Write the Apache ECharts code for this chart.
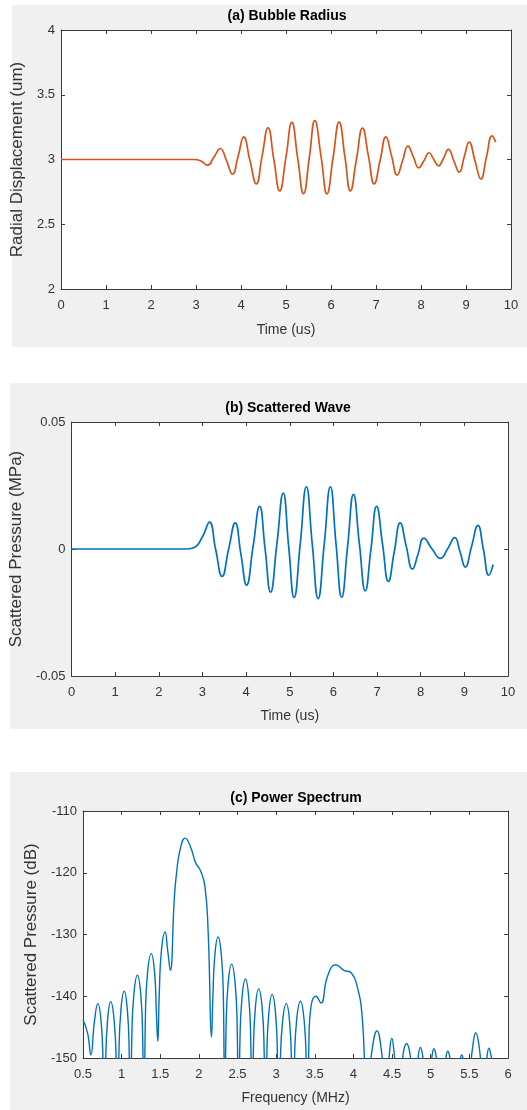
<!DOCTYPE html>
<html><head><meta charset="utf-8">
<script src="https://cdn.jsdelivr.net/npm/echarts@6/dist/echarts.min.js"></script>
<style>
html,body{margin:0;padding:0;background:#fff;}
#wrap{position:relative;width:527px;height:1110px;overflow:hidden;}
.panel{position:absolute;background:#f0f0f0;}
#chart{position:absolute;left:0;top:0;width:527px;height:1110px;}
</style></head><body>
<div id="wrap">
<div class="panel" style="left:12px;top:5px;width:515px;height:342px"></div>
<div class="panel" style="left:10px;top:383px;width:517px;height:346px"></div>
<div class="panel" style="left:10px;top:772px;width:517px;height:338px"></div>
<div id="chart"></div>
</div>
<script>
// ---- Panel (a) Bubble Radius ----
var timeA = [0, 2.8, 2.95, 3.1, 3.26, 3.40, 3.54, 3.68, 3.81, 3.94, 4.06, 4.20, 4.34, 4.47, 4.60, 4.73, 4.86, 5.0, 5.13, 5.26, 5.39, 5.52, 5.64, 5.78, 5.91, 6.045, 6.18, 6.31, 6.43, 6.565, 6.70, 6.83, 6.96, 7.09, 7.22, 7.345, 7.47, 7.59, 7.71, 7.83, 7.95, 8.065, 8.18, 8.285, 8.39, 8.50, 8.61, 8.73, 8.85, 8.96, 9.07, 9.20, 9.33, 9.455, 9.58, 9.66];
var radiusA = [3.0, 3.0, 3.0, 2.99, 2.956, 3.02, 3.085, 2.99, 2.887, 3.03, 3.175, 2.99, 2.812, 3.03, 3.245, 3.0, 2.758, 3.02, 3.286, 3.01, 2.737, 3.02, 3.30, 3.02, 2.735, 3.01, 3.289, 3.02, 2.758, 3.0, 3.242, 3.03, 2.812, 2.99, 3.175, 3.03, 2.879, 2.99, 3.103, 3.02, 2.936, 2.99, 3.052, 3.0, 2.951, 3.01, 3.078, 2.99, 2.902, 3.02, 3.134, 2.99, 2.85, 3.02, 3.183, 3.134];
var ticksA_x = [0, 10, 1];
var ticksA_y = [2, 4, 0.5];

// ---- Panel (b) Scattered Wave ----
var timeB = [0, 2.6, 2.8, 3.0, 3.16, 3.30, 3.45, 3.60, 3.75, 3.88, 4.01, 4.16, 4.31, 4.435, 4.56, 4.705, 4.85, 4.975, 5.10, 5.24, 5.38, 5.515, 5.65, 5.79, 5.93, 6.06, 6.19, 6.325, 6.46, 6.595, 6.73, 6.86, 6.99, 7.125, 7.26, 7.395, 7.53, 7.67, 7.81, 7.94, 8.07, 8.26, 8.45, 8.615, 8.78, 8.90, 9.02, 9.165, 9.31, 9.435, 9.56, 9.66];
var pressureB = [0, 0, 0.0005, 0.0048, 0.0106, 0.0, -0.0108, 0.0, 0.0103, -0.002, -0.0142, 0.001, 0.0168, 0.0, -0.0170, 0.002, 0.0220, 0.001, -0.0191, 0.002, 0.0245, 0.002, -0.0195, 0.002, 0.0245, 0.002, -0.019, 0.001, 0.0215, 0.002, -0.0165, 0.0, 0.0168, 0.002, -0.0128, -0.001, 0.0103, 0.001, -0.0079, -0.002, 0.0043, 0.0, -0.0037, 0.0, 0.0045, -0.001, -0.0071, 0.001, 0.0093, 0.0, -0.0103, -0.0061];
var ticksB_x = [0, 10, 1];
var ticksB_y = [-0.05, 0.05, 0.05];

// ---- Panel (c) Power Spectrum ----
var freqC = [0.5, 0.56, 0.602, 0.647, 0.692, 0.735, 0.760, 0.777, 0.793, 0.818, 0.858, 0.903, 0.930, 0.948, 0.965, 0.991, 1.033, 1.074, 1.098, 1.114, 1.132, 1.159, 1.204, 1.247, 1.272, 1.289, 1.308, 1.336, 1.383, 1.426, 1.451, 1.468, 1.487, 1.515, 1.562, 1.596, 1.630, 1.681, 1.711, 1.758, 1.822, 1.894, 1.958, 2.022, 2.078, 2.12, 2.163, 2.180, 2.206, 2.248, 2.291, 2.317, 2.334, 2.352, 2.379, 2.423, 2.468, 2.495, 2.513, 2.531, 2.558, 2.602, 2.645, 2.671, 2.688, 2.705, 2.731, 2.773, 2.818, 2.844, 2.862, 2.879, 2.905, 2.948, 2.991, 3.016, 3.033, 3.053, 3.082, 3.131, 3.174, 3.199, 3.216, 3.236, 3.265, 3.314, 3.361, 3.389, 3.408, 3.425, 3.451, 3.515, 3.579, 3.664, 3.771, 3.877, 3.971, 4.048, 4.112, 4.175, 4.242, 4.304, 4.36, 4.42, 4.462, 4.496, 4.532, 4.59, 4.645, 4.688, 4.73, 4.79, 4.84, 4.867, 4.895, 4.96, 5.018, 5.042, 5.068, 5.14, 5.198, 5.221, 5.246, 5.32, 5.385, 5.4, 5.42, 5.47, 5.54, 5.583, 5.63, 5.69, 5.73, 5.754, 5.78, 5.796];
var powerC = [-143.8, -146, -149.5, -144.2, -141.2, -144.2, -151.2, -165, -150.9, -143.9, -140.9, -143.9, -150.9, -165, -149.2, -142.2, -139.2, -142.2, -149.2, -165, -146.6, -139.6, -136.6, -139.6, -146.6, -165, -143.1, -136.1, -133.1, -136.1, -143.1, -147.3, -139.6, -132.6, -129.6, -132.6, -135.8, -124.3, -120.0, -116.2, -114.4, -115.9, -118.4, -119.7, -122.2, -129.7, -146.6, -140.4, -133.4, -130.4, -133.4, -140.4, -165, -144.8, -137.8, -134.8, -137.8, -144.8, -165, -147.2, -140.2, -137.2, -140.2, -147.2, -165, -148.8, -141.8, -138.8, -141.8, -148.8, -165, -149.7, -142.7, -139.7, -142.7, -149.7, -165, -151.2, -144.2, -141.2, -144.2, -151.2, -165, -150.8, -143.8, -140.8, -143.8, -150.8, -165, -146.5, -141.6, -140.0, -141.1, -136.8, -134.9, -135.8, -136.2, -138.4, -143.2, -156, -148.6, -145.6, -148.6, -156, -149.8, -146.8, -149.8, -156, -149.2, -147.7, -149.2, -156, -149.6, -148.3, -149.6, -156, -149.6, -148.5, -149.6, -156, -149.8, -148.9, -149.8, -156, -150.2, -149.5, -150.2, -156, -148.5, -145.9, -148.5, -156, -149.6, -148.4, -149.6, -150.5];
var ticksC_x = [0.5, 6, 0.5];
var ticksC_y = [-150, -110, 10];

function zip(a, b) { var o = []; for (var i = 0; i < a.length; i++) o.push([a[i], b[i]]); return o; }

var FONT = 'Liberation Sans, Arial, Helvetica, sans-serif';
var AX = '#3a3a3a';
var TXT = '#333333';

function makeAxes(gi, xt, yt, xname, yname, ynameGap, xnameGap) {
  var base = { gridIndex: gi, type: 'value', splitLine: { show: false },
    axisLine: { show: true, onZero: false, lineStyle: { color: AX, width: 1 } },
    axisTick: { show: true, inside: true, length: 4, lineStyle: { color: AX } } };
  var xs = [
    Object.assign({}, base, { position: 'bottom', min: xt[0], max: xt[1], interval: xt[2],
      name: xname, nameLocation: 'middle', nameGap: xnameGap,
      nameTextStyle: { fontFamily: FONT, fontSize: 14, color: TXT },
      axisLabel: { fontFamily: FONT, fontSize: 13, color: TXT, margin: 10 } }),
    Object.assign({}, base, { position: 'top', min: xt[0], max: xt[1], interval: xt[2],
      axisLabel: { show: false } })
  ];
  var ys = [
    Object.assign({}, base, { position: 'left', min: yt[0], max: yt[1], interval: yt[2],
      name: yname, nameLocation: 'middle', nameGap: ynameGap,
      nameTextStyle: { fontFamily: FONT, fontSize: 17, color: TXT },
      axisLabel: { fontFamily: FONT, fontSize: 13, color: TXT, margin: 6 } }),
    Object.assign({}, base, { position: 'right', min: yt[0], max: yt[1], interval: yt[2],
      axisLabel: { show: false } })
  ];
  return { x: xs, y: ys };
}

var a1 = makeAxes(0, ticksA_x, ticksA_y, 'Time (us)', 'Radial Displacement (um)', 27, 34);
var a2 = makeAxes(1, ticksB_x, ticksB_y, 'Time (us)', 'Scattered Pressure (MPa)', 37, 33);
var a3 = makeAxes(2, ticksC_x, ticksC_y, 'Frequency (MHz)', 'Scattered Pressure (dB)', 33, 33);

function titleText(txt, x, y) {
  return { type: 'text', x: x, y: y, silent: true,
    style: { text: txt, fill: '#000', font: 'bold 14px ' + FONT, align: 'center', verticalAlign: 'middle' } };
}

var chart = echarts.init(document.getElementById('chart'), null, { renderer: 'canvas', width: 527, height: 1110 });
chart.setOption({
  backgroundColor: 'transparent',
  animation: false,
  grid: [
    { left: 61, top: 30, width: 450, height: 259, show: true, backgroundColor: '#fff', borderWidth: 0 },
    { left: 68, top: 422, width: 440, height: 254, show: true, backgroundColor: '#fff', borderWidth: 0 },
    { left: 83, top: 811, width: 425, height: 247, show: true, backgroundColor: '#fff', borderWidth: 0 }
  ],
  xAxis: a1.x.concat(a2.x, a3.x),
  yAxis: a1.y.concat(a2.y, a3.y),
  graphic: [
    titleText('(a) Bubble Radius', 287, 16),
    titleText('(b) Scattered Wave', 288, 408),
    titleText('(c) Power Spectrum', 296, 798)
  ],
  series: [
    { type: 'line', xAxisIndex: 0, yAxisIndex: 0, data: zip(timeA, radiusA), smooth: 0.5, showSymbol: false,
      lineStyle: { color: '#D95319', width: 1.7 }, itemStyle: { color: '#D95319' } },
    { type: 'line', xAxisIndex: 2, yAxisIndex: 2, data: zip(timeB, pressureB), smooth: 0.5, showSymbol: false,
      lineStyle: { color: '#0072BD', width: 1.7 }, itemStyle: { color: '#0072BD' } },
    { type: 'line', xAxisIndex: 4, yAxisIndex: 4, data: zip(freqC, powerC), smooth: 0.5, showSymbol: false, clip: true,
      lineStyle: { color: '#0072BD', width: 1.4 }, itemStyle: { color: '#0072BD' } }
  ]
});
</script>
</body></html>
